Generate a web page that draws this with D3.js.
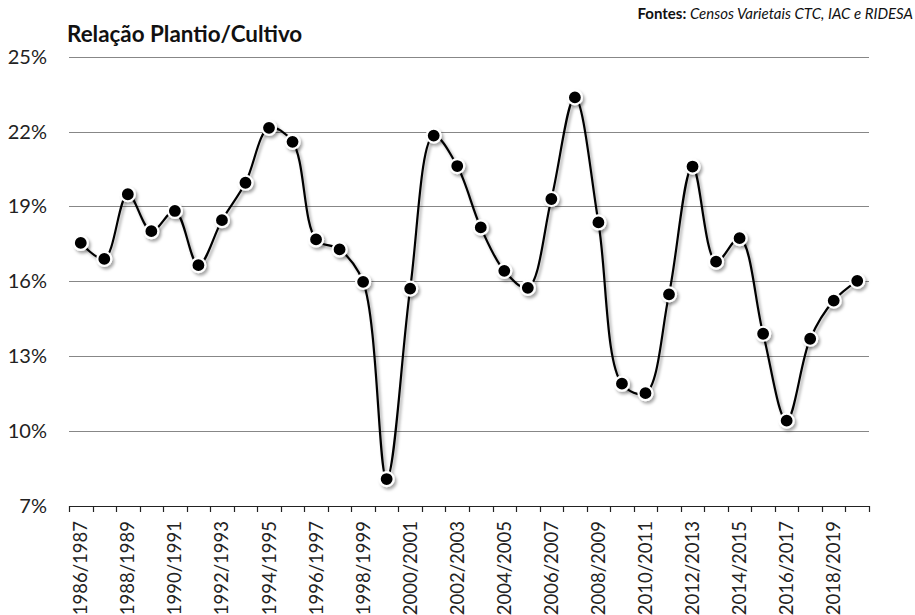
<!DOCTYPE html>
<html><head><meta charset="utf-8">
<script src="https://cdn.jsdelivr.net/npm/d3@7"></script>
<style>body{margin:0;background:#fff}svg{display:block}</style>
</head><body>
<svg id="c" width="915" height="615"></svg>
<script>
const categories = ["1986/1987","1987/1988","1988/1989","1989/1990","1990/1991","1991/1992","1992/1993","1993/1994","1994/1995","1995/1996","1996/1997","1997/1998","1998/1999","1999/2000","2000/2001","2001/2002","2002/2003","2003/2004","2004/2005","2005/2006","2006/2007","2007/2008","2008/2009","2009/2010","2010/2011","2011/2012","2012/2013","2013/2014","2014/2015","2015/2016","2016/2017","2017/2018","2018/2019","2019/2020"];
const values = [17.54,16.90,19.49,18.01,18.82,16.65,18.45,19.95,22.15,21.59,17.68,17.28,15.98,8.08,15.71,21.84,20.62,18.16,16.42,15.74,19.30,23.37,18.36,11.90,11.52,15.48,20.60,16.79,17.73,13.90,10.42,13.70,15.23,16.02];
const yTicks = [7,10,13,16,19,22,25];
const title = "Relação Plantio/Cultivo";

const svg = d3.select("#c");
const font = "Lato, 'Open Sans', sans-serif";
const defs = svg.append("defs");
const f = defs.append("filter").attr("id","sh").attr("x","-50%").attr("y","-50%").attr("width","200%").attr("height","200%");
f.append("feDropShadow").attr("dx",2).attr("dy",2.5).attr("stdDeviation",1.6).attr("flood-color","#000").attr("flood-opacity",0.35);

const x = d3.scaleBand().domain(categories).range([69,869]);
const y = d3.scaleLinear().domain([7,25]).range([506,56.7]);

// gridlines
svg.append("g").selectAll("line").data(yTicks.filter(t=>t>7)).join("line")
  .attr("x1",69).attr("x2",869).attr("y1",d=>Math.round(y(d))+0.5).attr("y2",d=>Math.round(y(d))+0.5)
  .attr("stroke","#878787").attr("stroke-width",1.2);

// y labels
svg.append("g").selectAll("text").data(yTicks).join("text")
  .attr("x",47).attr("y",d=>y(d)+7).attr("text-anchor","end")
  .attr("font-family",font).attr("font-size",20).attr("fill","#222")
  .text(d=>d+"%");

// x axis
const xa = svg.append("g").attr("transform","translate(0,"+Math.round(y(7))+")")
  .call(d3.axisBottom(x).tickSize(0).tickFormat(""));
xa.select(".domain").attr("stroke","#222").attr("stroke-width",1.2);
xa.selectAll(".tick").remove();
const bounds = categories.map((c,i)=>x(c)).concat([x.range()[1]]);
xa.selectAll("line.tk").data(bounds).join("line").attr("class","tk")
  .attr("x1",d=>Math.round(d)+0.5).attr("x2",d=>Math.round(d)+0.5).attr("y1",0).attr("y2",6)
  .attr("stroke","#222").attr("stroke-width",1.2);
xa.selectAll("text.lb").data(categories.filter((c,i)=>i%2===0)).join("text").attr("class","lb")
  .attr("transform",d=>"translate("+(x(d)+x.bandwidth()/2+6.5)+",15) rotate(-90)")
  .attr("text-anchor","end").attr("font-family",font).attr("font-size",18.5).attr("fill","#222")
  .text(d=>d);

// line
const pts = categories.map((c,i)=>[x(c)+x.bandwidth()/2, y(values[i])]);
svg.append("path").datum(pts)
  .attr("d",d3.line().curve(d3.curveCatmullRom.alpha(0.5)))
  .attr("fill","none").attr("stroke","#000").attr("stroke-width",2.2).attr("filter","url(#sh)");

svg.append("g").attr("filter","url(#sh)").selectAll("circle").data(pts).join("circle")
  .attr("cx",d=>d[0]).attr("cy",d=>d[1]).attr("r",7)
  .attr("fill","#000").attr("stroke","#fff").attr("stroke-width",2.2);

// title
svg.append("text").attr("x",67).attr("y",42).attr("font-family",font).attr("font-weight","bold")
  .attr("font-size",22.4).attr("fill","#111").text(title);

// source
const s = svg.append("text").attr("x",913).attr("y",19).attr("text-anchor","end")
  .attr("font-family",font).attr("font-size",15).attr("fill","#111");
s.append("tspan").attr("font-weight","bold").text("Fontes: ");
s.append("tspan").attr("font-style","italic").text("Censos Varietais CTC, IAC e RIDESA");
</script>
</body></html>
